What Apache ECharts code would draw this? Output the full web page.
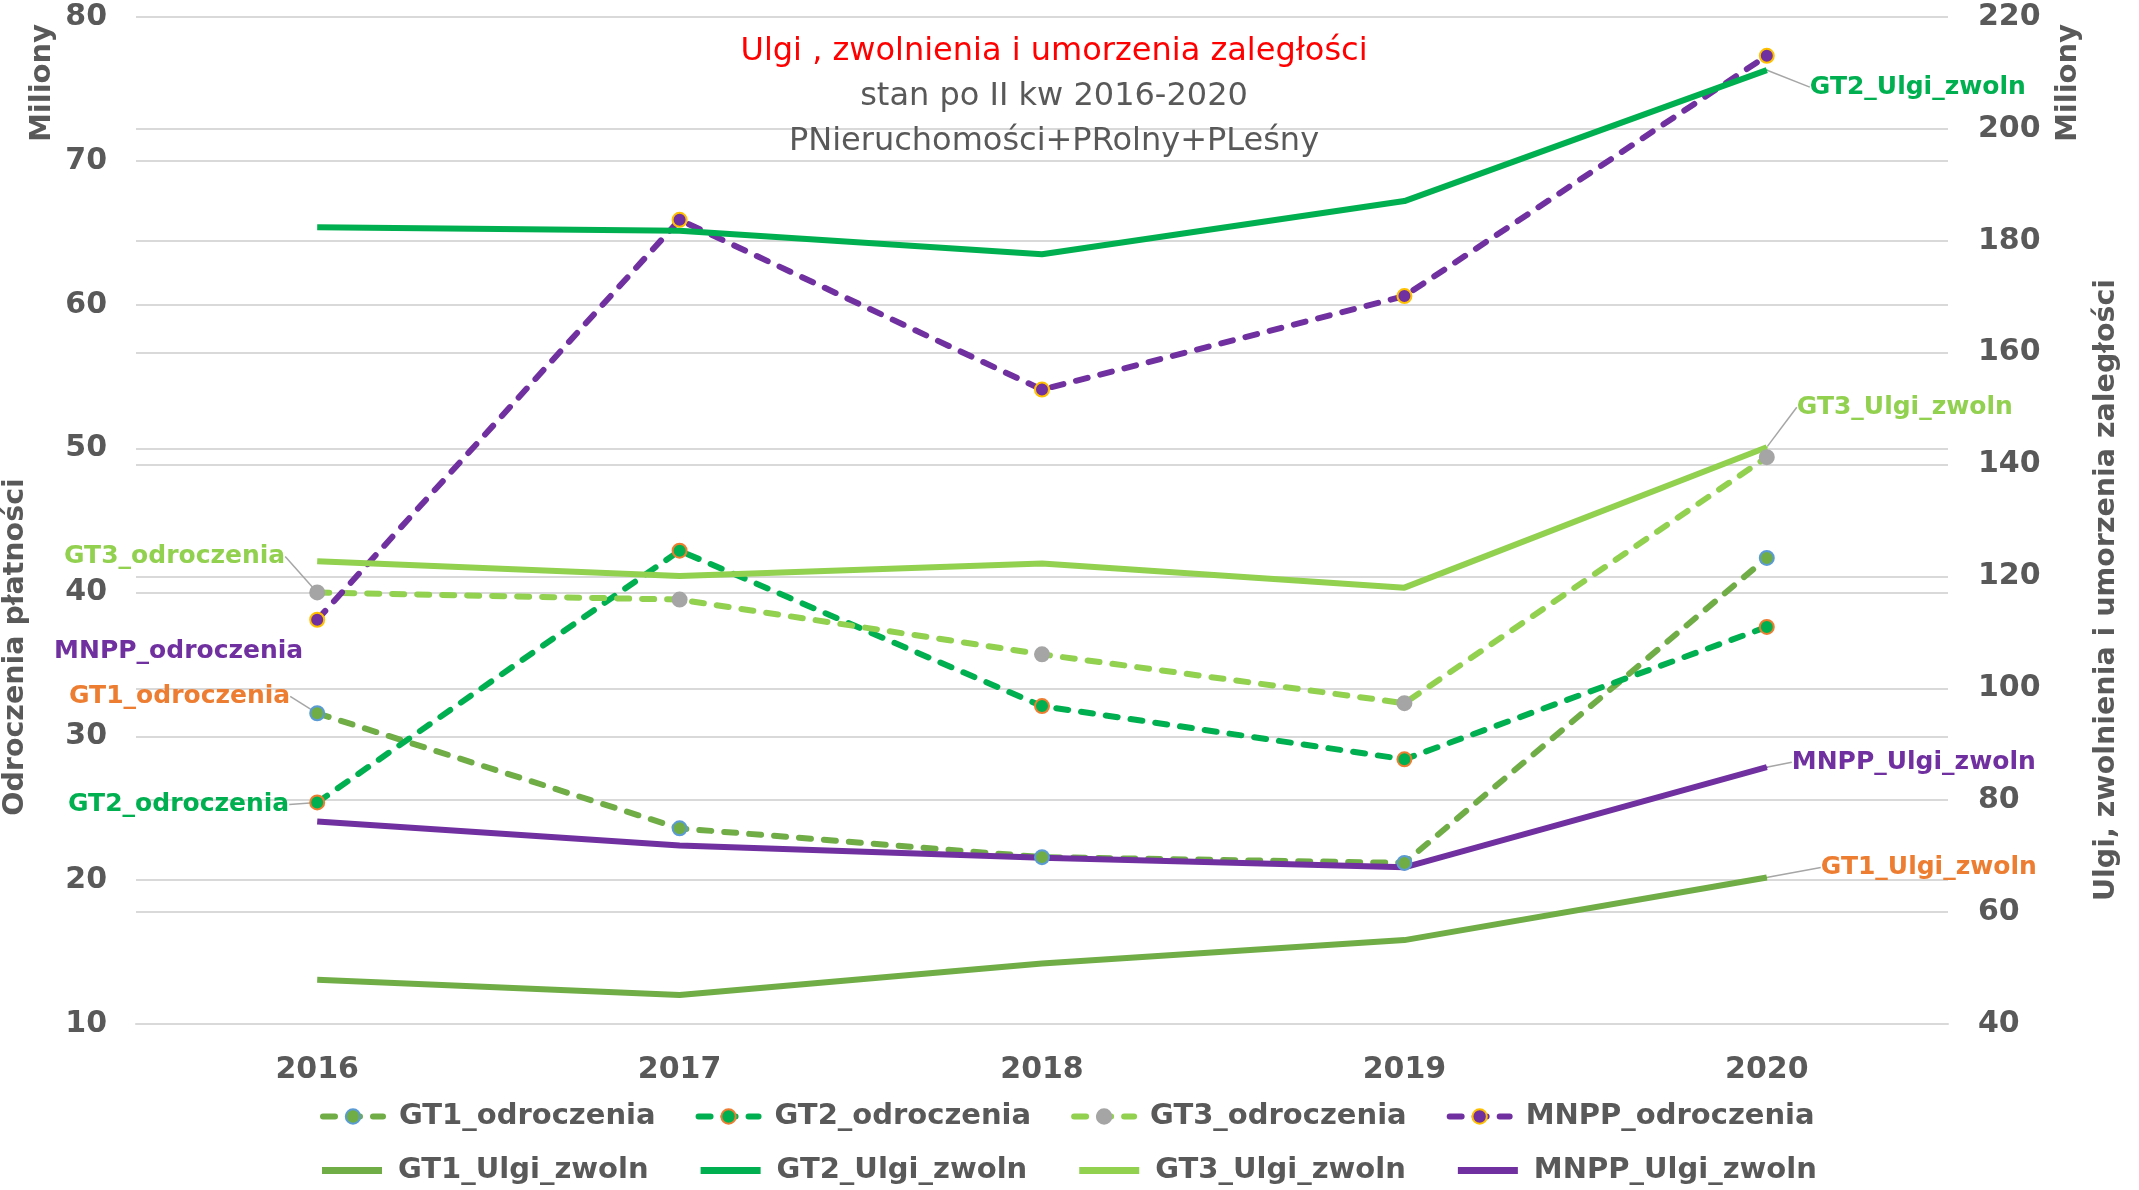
<!DOCTYPE html>
<html>
<head>
<meta charset="utf-8">
<script src="https://cdn.jsdelivr.net/npm/echarts@6/dist/echarts.min.js"></script>
<style>
  html, body { margin: 0; padding: 0; background: #fff; }
  #chart { width: 2139px; height: 1190px; }
</style>
</head>
<body>
<div id="chart"></div>
<script>
const years = ['2016', '2017', '2018', '2019', '2020'];

// odroczenia płatności (lewa oś, mln)
const gt1Odr = [31.6, 23.6, 21.6, 21.2, 42.4];
const gt2Odr = [25.4, 42.9, 32.1, 28.4, 37.6];
const gt3Odr = [40.0, 39.5, 35.7, 32.3, 49.4];
const mnppOdr = [38.1, 65.9, 54.1, 60.6, 77.3];

// ulgi, zwolnienia i umorzenia (prawa oś, mln)
const gt1Ulgi = [47.9, 45.2, 50.8, 55.0, 66.2];
const gt2Ulgi = [182.4, 181.8, 177.6, 187.1, 210.5];
const gt3Ulgi = [122.7, 120.1, 122.3, 118.0, 143.1];
const mnppUlgi = [76.2, 71.9, 69.7, 68.0, 85.9];

const leftTicks = { min: 10, max: 80, interval: 10 };
const rightTicks = { min: 40, max: 220, interval: 20 };

const FONT = "'DejaVu Sans', Verdana, sans-serif";
const GREY = '#595959';
const GRID = '#D9D9D9';

function odrSeries(name, values, color, fill, border, labelColor, layout, leader) {
  return {
    name: name,
    type: 'line',
    yAxisIndex: 0,
    symbol: 'circle',
    symbolSize: 14,
    itemStyle: { color: fill, borderColor: border, borderWidth: 2 },
    lineStyle: { color: color, width: 6, type: [12, 13], cap: 'round' },
    data: values.map((v, i) => i === 0
      ? { value: v, label: { show: true } }
      : v),
    label: {
      show: false,
      position: 'left',
      formatter: '{a}',
      color: labelColor,
      fontFamily: FONT,
      fontWeight: 'bold',
      fontSize: 25
    },
    labelLine: { show: leader, lineStyle: { color: '#A6A6A6', width: 1.5 } },
    labelLayout: layout,
    emphasis: { disabled: true }
  };
}

function ulgiSeries(name, values, color, labelColor, layout) {
  return {
    name: name,
    type: 'line',
    yAxisIndex: 1,
    symbol: 'none',
    lineStyle: { color: color, width: 6 },
    itemStyle: { color: color },
    data: values.map((v, i) => i === values.length - 1
      ? { value: v, symbol: 'circle', symbolSize: 2, label: { show: true } }
      : v),
    label: {
      show: false,
      position: 'right',
      formatter: '{a}',
      color: labelColor,
      fontFamily: FONT,
      fontWeight: 'bold',
      fontSize: 25
    },
    labelLine: { show: true, lineStyle: { color: '#A6A6A6', width: 1.5 } },
    labelLayout: layout,
    emphasis: { disabled: true }
  };
}

const chart = echarts.init(document.getElementById('chart'));

const legendText = {
  color: GREY,
  fontFamily: FONT,
  fontWeight: 'bold',
  fontSize: 29,
  width: 262,
  padding: [0, 0, 0, 11]
};

const option = {
  backgroundColor: '#fff',
  animation: false,
  title: {
    text: 'Ulgi , zwolnienia i umorzenia zaległości',
    subtext: 'stan po II kw 2016-2020\nPNieruchomości+PRolny+PLeśny',
    left: 1049,
    top: 25,
    textAlign: 'center',
    itemGap: 0,
    textStyle: { color: '#FF0000', fontFamily: FONT, fontWeight: 'normal', fontSize: 32, lineHeight: 44 },
    subtextStyle: { color: GREY, fontFamily: FONT, fontSize: 32, lineHeight: 45 }
  },
  grid: { left: 136, right: 191, top: 17, bottom: 166 },
  legend: [
    {
      data: ['GT1_odroczenia', 'GT2_odroczenia', 'GT3_odroczenia', 'MNPP_odroczenia'],
      left: 320,
      top: 1102,
      padding: 0,
      itemWidth: 60,
      itemHeight: 18,
      itemGap: 40,
      lineStyle: { width: 6 },
      textStyle: legendText
    },
    {
      data: ['GT1_Ulgi_zwoln', 'GT2_Ulgi_zwoln', 'GT3_Ulgi_zwoln', 'MNPP_Ulgi_zwoln'],
      left: 322,
      top: 1156,
      padding: 0,
      icon: 'rect',
      itemWidth: 60,
      itemHeight: 7,
      itemGap: 52,
      textStyle: legendText
    }
  ],
  xAxis: {
    type: 'category',
    data: years,
    boundaryGap: true,
    axisTick: { show: false },
    axisLine: { lineStyle: { color: GRID, width: 2 } },
    axisLabel: { color: GREY, fontFamily: FONT, fontWeight: 'bold', fontSize: 30, margin: 31 }
  },
  yAxis: [
    {
      type: 'value',
      min: leftTicks.min,
      max: leftTicks.max,
      interval: leftTicks.interval,
      axisLine: { show: false },
      axisTick: { show: false },
      splitLine: { lineStyle: { color: GRID, width: 2 } },
      axisLabel: { color: GREY, fontFamily: FONT, fontWeight: 'bold', fontSize: 30, margin: 29 }
    },
    {
      type: 'value',
      position: 'right',
      min: rightTicks.min,
      max: rightTicks.max,
      interval: rightTicks.interval,
      axisLine: { show: false },
      axisTick: { show: false },
      splitLine: { lineStyle: { color: GRID, width: 2 } },
      axisLabel: { color: GREY, fontFamily: FONT, fontWeight: 'bold', fontSize: 30, margin: 30 }
    }
  ],
  graphic: [
    { type: 'text', x: 42, y: 83, rotation: Math.PI / 2,
      style: { text: 'Miliony', font: "bold 29px 'DejaVu Sans'", fill: GREY, align: 'center', verticalAlign: 'middle' } },
    { type: 'text', x: 16, y: 647, rotation: Math.PI / 2,
      style: { text: 'Odroczenia płatności', font: "bold 28.5px 'DejaVu Sans'", fill: GREY, align: 'center', verticalAlign: 'middle' } },
    { type: 'text', x: 2068, y: 83, rotation: Math.PI / 2,
      style: { text: 'Miliony', font: "bold 29px 'DejaVu Sans'", fill: GREY, align: 'center', verticalAlign: 'middle' } },
    { type: 'text', x: 2107, y: 590, rotation: Math.PI / 2,
      style: { text: 'Ulgi, zwolnienia i umorzenia zaległości', font: "bold 28.5px 'DejaVu Sans'", fill: GREY, align: 'center', verticalAlign: 'middle' } }
  ],
  series: [
    odrSeries('GT1_odroczenia', gt1Odr, '#70AD47', '#70AD47', '#5B9BD5', '#ED7D31', { dx: -14, dy: -17 }, true),
    odrSeries('GT2_odroczenia', gt2Odr, '#00B050', '#00B050', '#ED7D31', '#00B050', { dx: -15, dy: 2 }, true),
    odrSeries('GT3_odroczenia', gt3Odr, '#92D050', '#A5A5A5', '#A5A5A5', '#92D050', { dx: -19, dy: -36 }, true),
    odrSeries('MNPP_odroczenia', mnppOdr, '#7030A0', '#7030A0', '#FFC000', '#7030A0', { dx: -1, dy: 32 }, false),
    ulgiSeries('GT1_Ulgi_zwoln', gt1Ulgi, '#70AD47', '#ED7D31', { dx: 48, dy: -10 }),
    ulgiSeries('GT2_Ulgi_zwoln', gt2Ulgi, '#00B050', '#00B050', { dx: 37, dy: 17 }),
    ulgiSeries('GT3_Ulgi_zwoln', gt3Ulgi, '#92D050', '#92D050', { dx: 24, dy: -40 }),
    ulgiSeries('MNPP_Ulgi_zwoln', mnppUlgi, '#7030A0', '#7030A0', { dx: 19, dy: -5 })
  ]
};

chart.setOption(option);
</script>
</body>
</html>
